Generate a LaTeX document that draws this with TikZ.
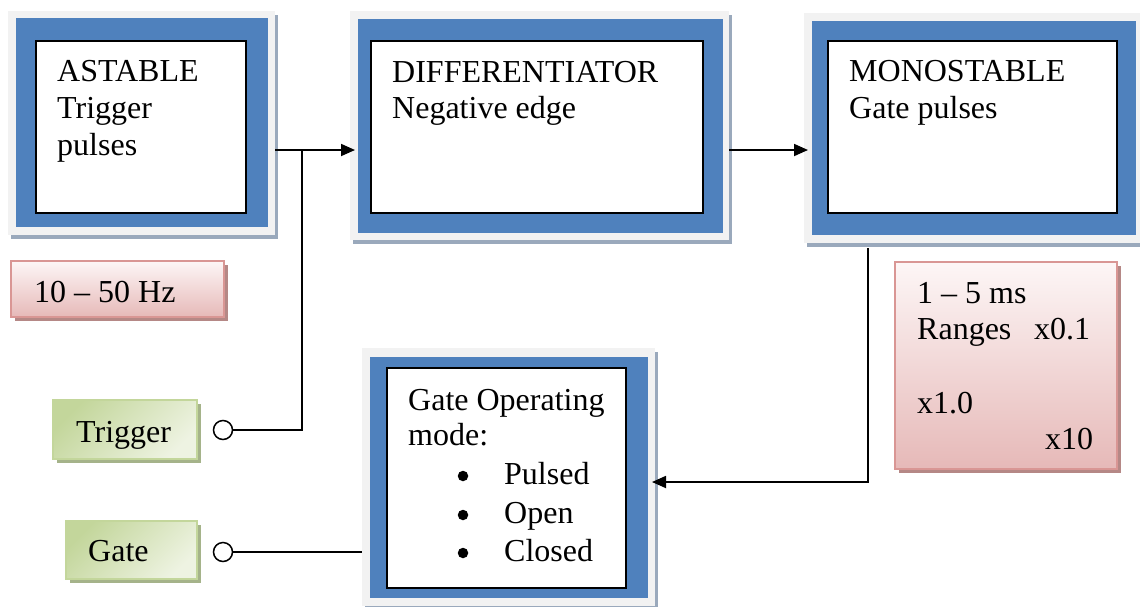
\documentclass[tikz,border=0pt]{standalone}
\usepackage{fontspec}
\setmainfont{Liberation Serif}
\usetikzlibrary{arrows.meta,fit,shadows}
\definecolor{frameg}{HTML}{F2F2F2}
\definecolor{shadg}{HTML}{9AA9BC}
\definecolor{blueb}{HTML}{4F81BD}
\definecolor{pinkb}{HTML}{D99694}
\definecolor{pinkT}{HTML}{FDF6F6}
\definecolor{pinkB}{HTML}{E6B9B8}
\definecolor{pinkS}{HTML}{B58886}
\definecolor{greenb}{HTML}{C3D69B}
\definecolor{greenA}{HTML}{C3D69B}
\definecolor{greenB}{HTML}{EEF3E2}
\definecolor{greenS}{HTML}{A5B38A}
\tikzset{
  frm/.style={fill=frameg, inner sep=0pt, outer sep=0pt,
    drop shadow={shadow xshift=2.5pt, shadow yshift=-3.5pt, fill=shadg, opacity=1}},
  blu/.style={fill=blueb, inner sep=0pt, outer sep=0pt},
  inr/.style={draw=black, fill=white, line width=1.5pt, inner sep=0pt, outer sep=0pt},
  pinkbox/.style={draw=pinkb, line width=1.5pt, top color=pinkT, bottom color=pinkB,
    inner sep=0pt, outer sep=0pt,
    drop shadow={shadow xshift=4pt, shadow yshift=-4pt, fill=pinkS, opacity=1}},
  greenbox/.style={draw=greenb, line width=1.5pt, top color=greenA, bottom color=greenB,
    shading angle=45, inner sep=0pt, outer sep=0pt,
    drop shadow={shadow xshift=4pt, shadow yshift=-4pt, fill=greenS, opacity=1}},
  txt/.style={anchor=base west, inner sep=0pt, font=\fontsize{32}{37}\selectfont},
  bul/.style={circle, fill=black, minimum size=10.5pt, inner sep=0pt},
  term/.style={circle, draw=black, fill=white, line width=1.5pt, minimum size=19pt, inner sep=0pt},
  conn/.style={line width=1.8pt},
  arr/.style={conn, -{Triangle[length=14pt,width=12pt]}},
}
\begin{document}
\begin{tikzpicture}[x=1pt,y=-1pt]
\useasboundingbox (0,0) rectangle (1140,606);

% ASTABLE block
\node[frm, fit={(8,11)(275,235)}] (astF) {};
\node[blu, fit={(16,18)(268,227)}] (astB) {};
\node[inr, fit={(36,41)(246,213)}] (astI) {};
\node[txt] (astT1) at (57,81) {ASTABLE};
\node[txt] (astT2) at (57,118) {Trigger};
\node[txt] (astT3) at (57,155) {pulses};

% DIFFERENTIATOR block
\node[frm, fit={(350,11)(729,240)}] (difF) {};
\node[blu, fit={(358,19)(723,233)}] (difB) {};
\node[inr, fit={(371,41)(703,213)}] (difI) {};
\node[txt] (difT1) at (392,82) {DIFFERENTIATOR};
\node[txt] (difT2) at (392,118) {Negative edge};

% MONOSTABLE block
\node[frm, fit={(804,13)(1140,243)}] (monF) {};
\node[blu, fit={(812,21)(1136,235)}] (monB) {};
\node[inr, fit={(828,41)(1117,213)}] (monI) {};
\node[txt] (monT1) at (849,81) {MONOSTABLE};
\node[txt] (monT2) at (849,118) {Gate pulses};

% Gate operating mode block
\node[frm, fit={(362,348)(655,606)}] (gatF) {};
\node[blu, fit={(370,357)(648,598)}] (gatB) {};
\node[inr, fit={(387,368)(626,588)}] (gatI) {};
\node[txt] (gatT1) at (408,410) {Gate Operating};
\node[txt] (gatT2) at (408,445) {mode:};
\node[bul] (gatB1) at (463,476) {};
\node[bul] (gatB2) at (463,515) {};
\node[bul] (gatB3) at (463,553) {};
\node[txt] (gatT3) at (504,484) {Pulsed};
\node[txt] (gatT4) at (504,523) {Open};
\node[txt] (gatT5) at (504,561) {Closed};

% 10-50 Hz
\node[pinkbox, fit={(11,261)(224,317)}] (hzB) {};
\node[txt] (hzT) at (34,302) {10 – 50 Hz};

% Ranges
\node[pinkbox, fit={(895,262)(1117,469)}] (rngB) {};
\node[txt] (rngT1) at (917,303) {1 – 5 ms};
\node[txt] (rngT2) at (917,339) {Ranges};
\node[txt] (rngT3) at (1034,339) {x0.1};
\node[txt] (rngT4) at (917,413) {x1.0};
\node[txt] (rngT5) at (1045,449) {x10};

% Trigger / Gate inputs
\node[greenbox, fit={(53,400)(197,459)}] (trgB) {};
\node[txt] (trgT) at (76,442) {Trigger};
\node[greenbox, fit={(66,521)(197,579)}] (gtiB) {};
\node[txt] (gtiT) at (88,561) {Gate};

\node[term] (trgC) at (223,430) {};
\node[term] (gtiC) at (223,552) {};

% connectors
\coordinate (j1) at (302,150);
\coordinate (j2) at (302,430);
\coordinate (m0) at (868,248);
\coordinate (m1) at (868,482);
\draw[arr, shorten >=-5pt] (astF.east |- j1) -- (difF.west |- j1);
\draw[arr, shorten >=-4pt] (difF.east |- j1) -- (monF.west |- j1);
\draw[conn] (trgC) -- (j2) -- (j1);
\draw[conn] (gtiC) -- (gatF.west |- gtiC);
\draw[arr, shorten >=-3pt] (m0) -- (m1) -- (gatF.east |- m1);
\end{tikzpicture}
\end{document}
